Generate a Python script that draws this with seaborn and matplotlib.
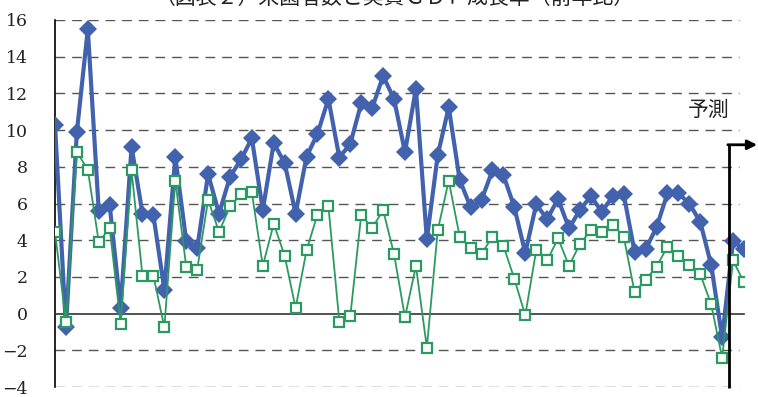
import matplotlib
matplotlib.use("Agg")
import matplotlib.pyplot as plt
from matplotlib import font_manager as fm
import seaborn as sns
import numpy as np
import pandas as pd

# Year-on-year growth (%), one value per period
visitors = [10.3, -0.75, 9.9, 15.5, 5.6, 5.9, 0.3, 9.1, 5.45, 5.35,
            1.3, 8.55, 3.95, 3.55, 7.6, 5.45, 7.45, 8.4, 9.55, 5.65,
            9.3, 8.2, 5.45, 8.55, 9.8, 11.7, 8.5, 9.25, 11.45, 11.2,
            12.95, 11.7, 8.8, 12.25, 4.05, 8.65, 11.25, 7.3, 5.8, 6.2,
            7.8, 7.55, 5.8, 3.3, 5.95, 5.15, 6.25, 4.65, 5.65, 6.4,
            5.55, 6.4, 6.5, 3.35, 3.5, 4.7, 6.55, 6.55, 6.0, 5.0,
            2.65, -1.3, 3.95, 3.5]
real_gdp = [4.45, -0.45, 8.8, 7.85, 3.9, 4.65, -0.55, 7.8, 2.05, 2.05,
            -0.75, 7.25, 2.55, 2.4, 6.2, 4.45, 5.85, 6.5, 6.6, 2.6,
            4.9, 3.15, 0.3, 3.45, 5.4, 5.85, -0.45, -0.15, 5.4, 4.65,
            5.65, 3.25, -0.2, 2.6, -1.85, 4.55, 7.25, 4.2, 3.55, 3.25,
            4.2, 3.7, 1.9, -0.1, 3.45, 2.9, 4.1, 2.6, 3.8, 4.55,
            4.45, 4.85, 4.2, 1.15, 1.85, 2.55, 3.65, 3.15, 2.65, 2.15,
            0.5, -2.4, 2.9, 1.7]
y_ticks = [-4, -2, 0, 2, 4, 6, 8, 10, 12, 14, 16]
title = "（図表２）来園者数と実質ＧＤＰ成長率（前年比）"
unit_label = "（％）"
forecast_label = "予測"
forecast_start = 61.6

df = pd.DataFrame({"t": np.arange(len(visitors)),
                   "visitors": visitors, "gdp": real_gdp})

sns.set_theme(style="white")

# serif face for the numeric axis labels
num_font = fm.FontProperties(family=["DejaVu Serif"], size=12.5)

W, H = 758, 397
fig = plt.figure(figsize=(W / 100, H / 100), dpi=100)
ax = fig.add_axes([55 / W, 10 / H, (744 - 55) / W, (387 - 20) / H])

blue = "#4262AE"
green = "#2B9A60"

sns.lineplot(data=df, x="t", y="visitors", ax=ax, color=blue, lw=3.0,
             marker="D", markersize=9.5, markeredgewidth=0,
             markerfacecolor=blue, zorder=3)
sns.lineplot(data=df, x="t", y="gdp", ax=ax, color=green, lw=1.3,
             marker="s", markersize=7.5, markeredgewidth=1.6,
             markerfacecolor="white", markeredgecolor=green, zorder=4)

ax.set_xlim(0, len(visitors) - 1)
ax.set_ylim(-4, 16)
ax.set_yticks(y_ticks)
ax.set_yticklabels([str(v).replace("-", "\u2212") for v in y_ticks],
                   fontproperties=num_font)
ax.set_xticks(np.arange(len(visitors)))
ax.set_xticklabels([])
ax.set_xlabel("")
ax.set_ylabel("")

# dashed horizontal gridlines (the zero line is the category axis)
for v in y_ticks:
    if v != 0:
        ax.axhline(v, xmin=0, xmax=0.993, color="#555555", lw=1.0,
                   dashes=(7, 5), zorder=1)

for s in ["top", "right"]:
    ax.spines[s].set_visible(False)
ax.spines["bottom"].set_position(("data", 0))
ax.spines["bottom"].set_color("#333333")
ax.spines["bottom"].set_linewidth(1.2)
ax.spines["left"].set_color("black")
ax.spines["left"].set_linewidth(1.2)
ax.tick_params(axis="x", direction="in", length=4, width=1, color="#333333")
ax.tick_params(axis="y", direction="in", length=5, width=1, color="black",
               pad=19.5, labelcolor="#222222")

# forecast marker: bracket line with arrow
ax.plot([forecast_start, forecast_start], [-4.05, 9.2], color="black",
        lw=2.0, zorder=6, clip_on=False, solid_capstyle="butt")
ax.annotate("", xy=(64.2, 9.2), xytext=(forecast_start - 0.08, 9.2),
            xycoords="data", textcoords="data", annotation_clip=False,
            arrowprops=dict(arrowstyle="-|>", color="black", lw=2.0,
                            mutation_scale=14, shrinkA=0, shrinkB=0),
            zorder=6)
ax.text(59.8, 11.1, forecast_label, fontsize=15,
        family=["Noto Sans CJK JP"], ha="center", va="center",
        color="#222222")

fig.text(395 / W, 1 + 2 / H, title, fontsize=15,
         family=["Noto Sans CJK JP"], ha="center", va="center",
         color="#222222")
fig.text(42 / W, 1 + 7 / H, unit_label, fontsize=14,
         family=["Noto Sans CJK JP"], ha="center", va="center",
         color="#222222")

fig.savefig("out.png", dpi=100)
